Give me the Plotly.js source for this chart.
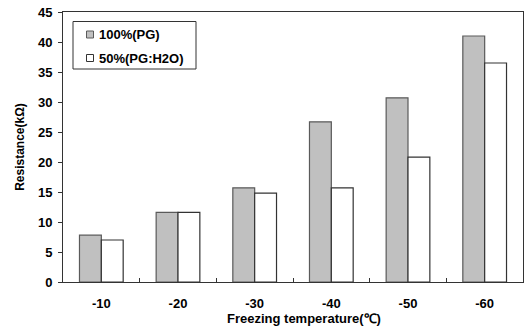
<!DOCTYPE html>
<html><head><meta charset="utf-8">
<script src="https://cdn.plot.ly/plotly-3.0.1.min.js"></script>
<style>html,body{margin:0;padding:0;background:#fff}#c{width:524px;height:327px}</style>
</head><body><div id="c"></div>
<script>
const categories = ["-10", "-20", "-30", "-40", "-50", "-60"];
const seriesNames = ["100%(PG)", "50%(PG:H2O)"];
const pg100 = [7.8, 11.6, 15.7, 26.7, 30.7, 41.0];
const pg50 = [7.0, 11.6, 14.8, 15.7, 20.8, 36.5];
const yTicks = [0, 5, 10, 15, 20, 25, 30, 35, 40, 45];
const xTitle = "Freezing temperature(℃)";
const yTitle = "Resistance(kΩ)";

const F = "Liberation Sans, Arial, sans-serif";
const fills = ["#c0c0c0", "#ffffff"];
const edges = ["#5a5a5a", "#333333"];
const data = [
  {type: "bar", x: categories, y: pg100, name: seriesNames[0],
   marker: {color: fills[0], line: {color: edges[0], width: 1.2}}},
  {type: "bar", x: categories, y: pg50, name: seriesNames[1],
   marker: {color: fills[1], line: {color: edges[1], width: 1.2}}}
];

// legend drawn as box + swatches + text (paper coords of plot area: 460x270 px)
const W = 460, H = 270, X0 = 63, YB = 282;
const px = x => (x - X0) / W, py = y => (YB - y) / H;
const shapes = [
  {type: "rect", xref: "paper", yref: "paper", x0: px(73), x1: px(196), y0: py(69), y1: py(21.5),
   line: {color: "#333", width: 1}, fillcolor: "#fff", layer: "above"}
];
const annotations = [];
const itemY = [34.5, 58];
seriesNames.forEach((n, i) => {
  shapes.push({type: "rect", xref: "paper", yref: "paper",
    x0: px(86.5), x1: px(93.5), y0: py(itemY[i] + 3.5), y1: py(itemY[i] - 3.5),
    line: {color: edges[i], width: 1}, fillcolor: fills[i], layer: "above"});
  annotations.push({xref: "paper", yref: "paper", x: px(97), y: py(itemY[i]),
    xanchor: "left", yanchor: "middle", showarrow: false, text: n,
    font: {family: F, size: 13, color: "#000", weight: "bold"}});
});
annotations.push({xref: "paper", yref: "paper", x: px(304), y: py(318),
  xanchor: "center", yanchor: "middle", showarrow: false, text: xTitle,
  font: {family: F, size: 13, color: "#000", weight: "bold"}});

const layout = {
  width: 524, height: 327,
  margin: {l: 63, r: 1, t: 12, b: 45},
  paper_bgcolor: "#fff", plot_bgcolor: "#fff",
  barmode: "group", bargap: 0.43, bargroupgap: 0,
  font: {family: F, size: 13, color: "#000", weight: "bold"},
  showlegend: false,
  shapes: shapes, annotations: annotations,
  xaxis: {type: "category", tickson: "boundaries", ticks: "inside", ticklen: 4,
    tickcolor: "#333", showline: true, linecolor: "#333", linewidth: 1, mirror: true,
    showgrid: false, ticklabelstandoff: 9,
    tickfont: {family: F, size: 13, weight: "bold"}},
  yaxis: {range: [0, 45], tickvals: yTicks, ticks: "outside", ticklen: 4,
    tickcolor: "#333", showline: true, linecolor: "#333", linewidth: 1, mirror: true,
    showgrid: false, zeroline: false, ticklabelstandoff: 3,
    tickfont: {family: F, size: 13, weight: "bold"},
    title: {text: yTitle, font: {family: F, size: 12, weight: "bold"}, standoff: 10}}
};
Plotly.newPlot("c", data, layout, {staticPlot: true, displayModeBar: false});
</script></body></html>
